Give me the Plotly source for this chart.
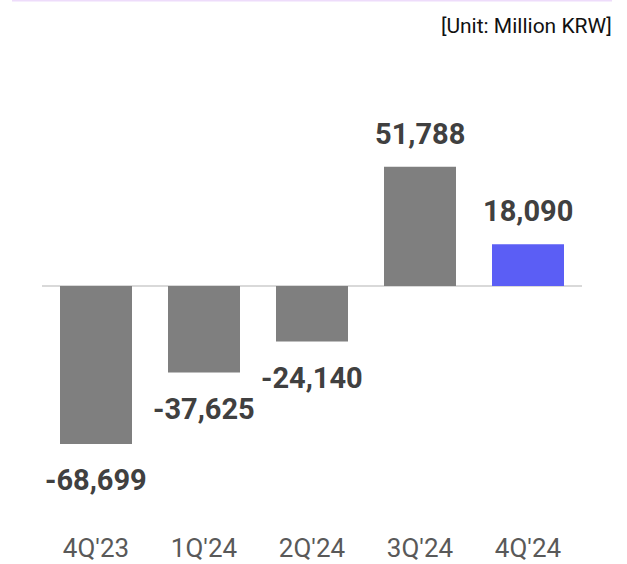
import plotly.graph_objects as go

# Quarterly figures (million KRW)
quarters = ["4Q'23", "1Q'24", "2Q'24", "3Q'24", "4Q'24"]
values = [-68699, -37625, -24140, 51788, 18090]
value_labels = ["-68,699", "-37,625", "-24,140", "51,788", "18,090"]
bar_colors = ["#7f7f7f", "#7f7f7f", "#7f7f7f", "#7f7f7f", "#5b5ef5"]

W, H = 627, 564
L, R, T, B = 42, 45, 60, 35
plot_w = W - L - R
plot_h = H - T - B
zero_px = 286  # zero baseline in page pixels
units_per_px = 434.5
y_max = (zero_px - T) * units_per_px
y_min = -(H - B - zero_px) * units_per_px


def px_to_paper_x(px):
    return (px - L) / plot_w


def px_to_paper_y(py):
    return (H - B - py) / plot_h


fig = go.Figure(
    go.Bar(
        x=quarters,
        y=values,
        marker=dict(color=bar_colors, line=dict(width=0)),
        hoverinfo="skip",
    )
)

# value labels above positive bars, below negative bars
for q, v, lab in zip(quarters, values, value_labels):
    fig.add_annotation(
        x=q, y=v, text=lab, showarrow=False,
        xanchor="center", yanchor="middle",
        yshift=33 if v >= 0 else -36,
        font=dict(family="Roboto", size=29, color="#404040", weight="bold"),
    )

# unit note in the top-right corner
fig.add_annotation(
    xref="paper", yref="paper",
    x=px_to_paper_x(614), y=px_to_paper_y(26),
    xanchor="right", yanchor="middle",
    text="[Unit: Million KRW]", showarrow=False,
    font=dict(family="Roboto", size=21, color="#111111"),
)

# thin accent rule along the top edge
fig.add_shape(
    type="line", xref="paper", yref="paper",
    x0=px_to_paper_x(12), x1=px_to_paper_x(612),
    y0=px_to_paper_y(0.75), y1=px_to_paper_y(0.75),
    line=dict(color="#eedcfb", width=1.5),
)

fig.update_layout(
    width=W, height=H,
    margin=dict(l=L, r=R, t=T, b=B, pad=0, autoexpand=False),
    paper_bgcolor="white", plot_bgcolor="white",
    bargap=1 / 3,
    showlegend=False,
    xaxis=dict(
        showgrid=False, showline=False, zeroline=False, automargin=False,
        ticks="", tickfont=dict(family="Roboto", size=26, color="#595959"),
        ticklabelstandoff=1,
        fixedrange=True,
    ),
    yaxis=dict(
        range=[y_min, y_max], showgrid=False, showticklabels=False,
        zeroline=True, zerolinecolor="#d9d9d9", zerolinewidth=2,
        showline=False, fixedrange=True, automargin=False,
    ),
)

fig.write_html("out.html", config={"displayModeBar": False})
